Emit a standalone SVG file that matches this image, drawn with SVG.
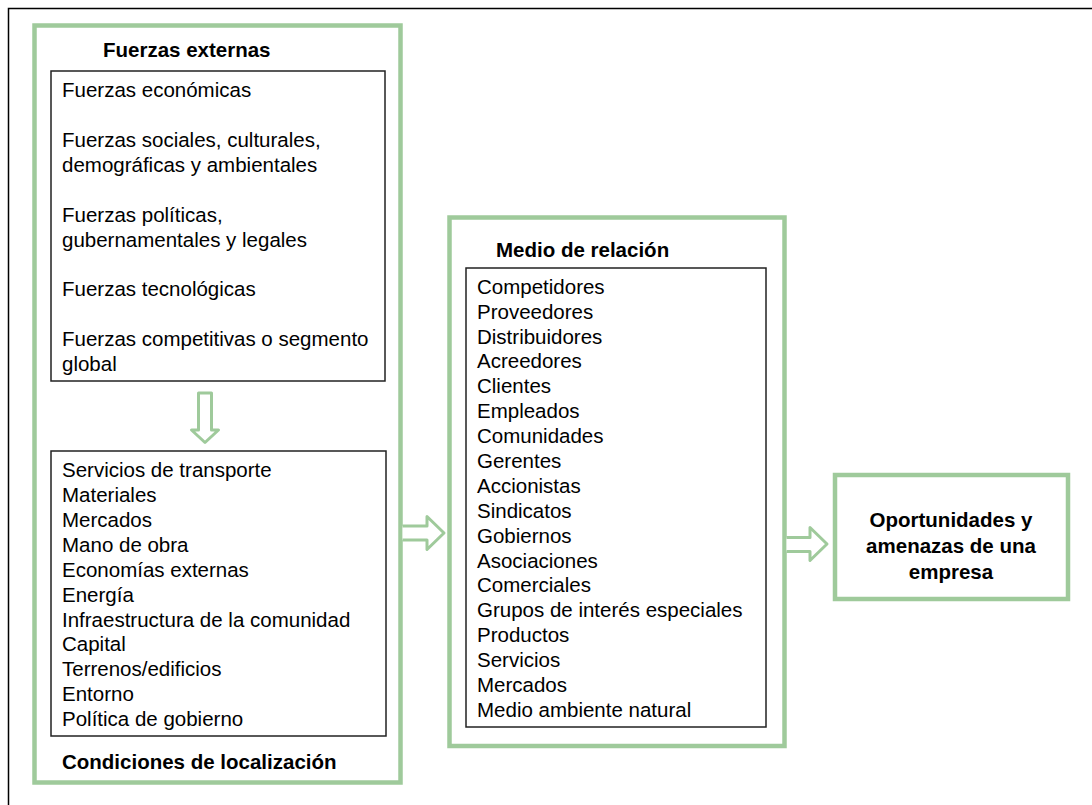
<svg xmlns="http://www.w3.org/2000/svg" width="1092" height="805" viewBox="0 0 1092 805">
  <style>
    .frame { fill: none; stroke: #000; stroke-width: 1.5; }
    .green { fill: #fff; stroke: #9fca9b; stroke-width: 4.5; }
    .inner { fill: #fff; stroke: #222; stroke-width: 1.5; }
    .arrow { fill: #fff; stroke: #9fca9b; stroke-width: 3; stroke-linejoin: round; }
    text { font-family: "Liberation Sans", Arial, Helvetica, sans-serif; font-size: 20.5px; fill: #000; }
    .title { font-weight: bold; }
    .center { text-anchor: middle; }
  </style>

  <rect width="1092" height="805" fill="#fff"/>

  <!-- page frame (open to the right and bottom) -->
  <path class="frame" d="M8.5,805 V8.5 H1092"/>

  <!-- external forces and location conditions -->
  <g id="entorno-externo">
    <rect class="green" x="34.5" y="25.5" width="366" height="757"/>
    <text class="title" x="103" y="57">Fuerzas externas</text>
    <text class="title" x="62" y="769">Condiciones de localización</text>
  </g>

  <g id="fuerzas-externas">
    <rect class="inner" x="51" y="71" width="334" height="310"/>
    <text x="62" y="97">Fuerzas económicas</text>
    <text x="62" y="147">Fuerzas sociales, culturales,</text>
    <text x="62" y="172">demográficas y ambientales</text>
    <text x="62" y="222">Fuerzas políticas,</text>
    <text x="62" y="247">gubernamentales y legales</text>
    <text x="62" y="296">Fuerzas tecnológicas</text>
    <text x="62" y="346">Fuerzas competitivas o segmento</text>
    <text x="62" y="371">global</text>
  </g>

  <g id="condiciones-localizacion">
    <rect class="inner" x="51" y="451" width="335" height="285"/>
    <text x="62" y="477">Servicios de transporte</text>
    <text x="62" y="502">Materiales</text>
    <text x="62" y="527">Mercados</text>
    <text x="62" y="552">Mano de obra</text>
    <text x="62" y="577">Economías externas</text>
    <text x="62" y="602">Energía</text>
    <text x="62" y="627">Infraestructura de la comunidad</text>
    <text x="62" y="651">Capital</text>
    <text x="62" y="676">Terrenos/edificios</text>
    <text x="62" y="701">Entorno</text>
    <text x="62" y="726">Política de gobierno</text>
  </g>

  <!-- relationship environment -->
  <g id="medio-relacion">
    <rect class="green" x="449.5" y="217.5" width="335" height="528.5"/>
    <text class="title" x="496" y="257">Medio de relación</text>
    <rect class="inner" x="466" y="268" width="300" height="459"/>
    <text x="477" y="294">Competidores</text>
    <text x="477" y="319">Proveedores</text>
    <text x="477" y="344">Distribuidores</text>
    <text x="477" y="368">Acreedores</text>
    <text x="477" y="393">Clientes</text>
    <text x="477" y="418">Empleados</text>
    <text x="477" y="443">Comunidades</text>
    <text x="477" y="468">Gerentes</text>
    <text x="477" y="493">Accionistas</text>
    <text x="477" y="518">Sindicatos</text>
    <text x="477" y="543">Gobiernos</text>
    <text x="477" y="568">Asociaciones</text>
    <text x="477" y="592">Comerciales</text>
    <text x="477" y="617">Grupos de interés especiales</text>
    <text x="477" y="642">Productos</text>
    <text x="477" y="667">Servicios</text>
    <text x="477" y="692">Mercados</text>
    <text x="477" y="717">Medio ambiente natural</text>
  </g>

  <!-- result -->
  <g id="oportunidades-amenazas">
    <rect class="green" x="835" y="475" width="233" height="124"/>
    <text class="title center" x="951" y="527">Oportunidades y</text>
    <text class="title center" x="951" y="553">amenazas de una</text>
    <text class="title center" x="951" y="579">empresa</text>
  </g>

  <!-- hollow block arrows -->
  <g id="conectores">
    <path class="arrow" d="M198.5,393 H211.5 V430 H218.5 L205,442.5 L191.5,430 H198.5 Z"/>
    <path class="arrow" d="M402.5,526 H427 V516.5 L444,533 L427,549.5 V540 H402.5"/>
    <path class="arrow" d="M786.5,537.5 H810 V527.5 L827,544 L810,560.5 V551.5 H786.5"/>
  </g>
</svg>
